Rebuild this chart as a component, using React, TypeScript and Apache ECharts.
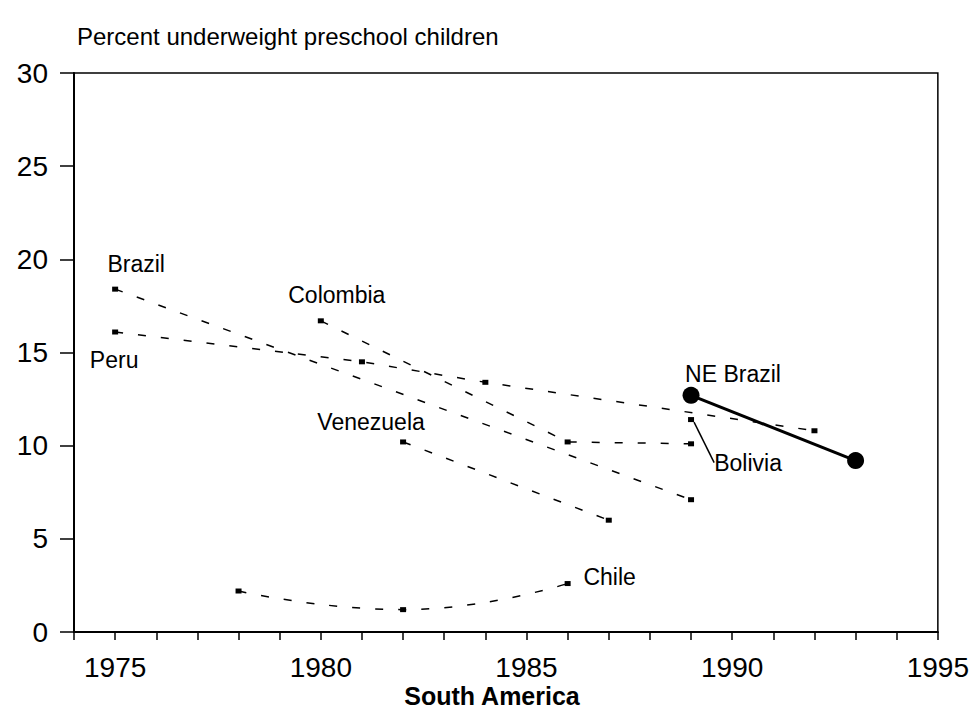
import React, { useEffect, useRef } from "react";
import * as echarts from "echarts";

const titleText = "Percent underweight preschool children";
const xAxisTitle = "South America";

const brazilYears = [1975, 1989];
const brazilValues = [18.4, 7.1];
const peruYears = [1975, 1981, 1984, 1992];
const peruValues = [16.1, 14.5, 13.4, 10.8];
const colombiaYears = [1980, 1986, 1989];
const colombiaValues = [16.7, 10.2, 10.1];
const venezuelaYears = [1982, 1987];
const venezuelaValues = [10.2, 6.0];
const chileYears = [1978, 1982, 1986];
const chileValues = [2.2, 1.2, 2.6];
const neBrazilYears = [1989, 1993];
const neBrazilValues = [12.7, 9.2];
const boliviaYears = [1989];
const boliviaValues = [11.4];

const FONT = "'Liberation Sans', Arial, Helvetica, sans-serif";

function makeData(years: number[], values: number[], labelIdx: number, text: string, offset: number[]) {
  return years.map((y, i) => {
    const v = [y, values[i]];
    if (i !== labelIdx) return v;
    return {
      value: v,
      label: {
        show: true,
        position: "inside",
        formatter: text,
        offset,
        color: "#000",
        fontSize: 23,
        fontFamily: FONT,
        align: "center",
        verticalAlign: "middle",
      },
    };
  });
}

const dashed = { color: "#000", width: 1.5, type: [8, 15] as number[] };

export default function App() {
  const ref = useRef<HTMLDivElement>(null);
  useEffect(() => {
    if (!ref.current) return;
    const chart = echarts.init(ref.current, null, { renderer: "svg" });
    const smallSym = {
      symbol: "rect",
      symbolSize: [6, 5],
      itemStyle: { color: "#000", opacity: 1 },
    };
    chart.setOption({
      animation: false,
      backgroundColor: "#fff",
      grid: {
        left: 74,
        right: 33,
        top: 73,
        bottom: 77,
        show: true,
        borderColor: "#000",
        borderWidth: 1.5,
      },
      xAxis: {
        type: "value",
        min: 1974,
        max: 1995,
        interval: 1,
        axisLine: { lineStyle: { color: "#000", width: 2 } },
        axisTick: { show: true, length: 8, inside: false, lineStyle: { color: "#000", width: 1.5 } },
        splitLine: { show: false },
        axisLabel: {
          color: "#000",
          fontSize: 28,
          fontFamily: FONT,
          margin: 21,
          formatter: (v: number) => (v % 5 === 0 ? String(v) : ""),
        },
      },
      yAxis: {
        type: "value",
        min: 0,
        max: 30,
        interval: 5,
        axisLine: { show: true, lineStyle: { color: "#000", width: 2 } },
        axisTick: { show: true, length: 14, inside: false, lineStyle: { color: "#000", width: 1.5 } },
        splitLine: { show: false },
        axisLabel: { color: "#000", fontSize: 28, fontFamily: FONT, margin: 26 },
      },
      graphic: [
        {
          type: "text",
          left: 77,
          top: 24,
          style: { text: titleText, fill: "#000", fontSize: 24, fontFamily: FONT },
        },
        {
          type: "text",
          x: 492,
          y: 696,
          style: {
            text: xAxisTitle,
            fill: "#000",
            fontSize: 25,
            fontWeight: "bold",
            fontFamily: FONT,
            align: "center",
            verticalAlign: "middle",
          },
        },
      ],
      series: [
        {
          name: "Brazil",
          type: "line",
          ...smallSym,
          lineStyle: dashed,
          data: makeData(brazilYears, brazilValues, 0, "Brazil", [21, -25]),
        },
        {
          name: "Peru",
          type: "line",
          ...smallSym,
          lineStyle: dashed,
          data: makeData(peruYears, peruValues, 0, "Peru", [-1, 28]),
        },
        {
          name: "Colombia",
          type: "line",
          ...smallSym,
          lineStyle: dashed,
          data: makeData(colombiaYears, colombiaValues, 0, "Colombia", [16, -26]),
        },
        {
          name: "Venezuela",
          type: "line",
          ...smallSym,
          lineStyle: dashed,
          data: makeData(venezuelaYears, venezuelaValues, 0, "Venezuela", [-32, -20]),
        },
        {
          name: "Chile",
          type: "line",
          smooth: 0.5,
          ...smallSym,
          lineStyle: dashed,
          data: makeData(chileYears, chileValues, 2, "Chile", [42, -7]),
        },
        {
          name: "NE Brazil",
          type: "line",
          symbol: "circle",
          symbolSize: 17,
          itemStyle: { color: "#000", opacity: 1 },
          lineStyle: { color: "#000", width: 3 },
          data: makeData(neBrazilYears, neBrazilValues, 0, "NE Brazil", [42, -21]),
        },
        {
          name: "Bolivia",
          type: "scatter",
          symbol: "rect",
          symbolSize: [6, 5],
          itemStyle: { color: "#000", opacity: 1 },
          label: {
            show: true,
            position: "inside",
            formatter: "Bolivia",
            color: "#000",
            opacity: 1,
            textBorderWidth: 0,
            fontSize: 23,
            fontFamily: FONT,
            align: "center",
            verticalAlign: "middle",
          },
          labelLayout: { dx: 57, dy: 43 },
          labelLine: { show: true, lineStyle: { color: "#000", width: 1.5, opacity: 1 } },
          data: boliviaYears.map((y, i) => [y, boliviaValues[i]]),
        },
      ],
    });
    return () => chart.dispose();
  }, []);
  return (
    <div
      ref={ref}
      style={{ position: "fixed", left: 0, top: 0, width: 972, height: 709, background: "#fff" }}
    />
  );
}
